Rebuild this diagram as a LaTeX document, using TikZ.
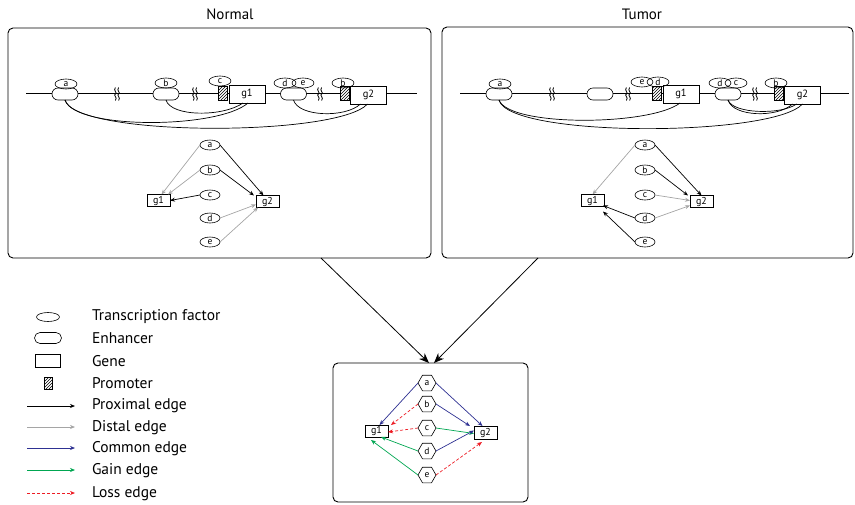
\documentclass[tikz,border=0pt]{standalone}
\usepackage{fontspec}
\setmainfont{PT Sans}
\usetikzlibrary{shapes.geometric,shapes.misc,patterns,arrows.meta,calc}
\definecolor{comblue}{RGB}{46,49,146}
\definecolor{gaingreen}{RGB}{0,166,81}
\definecolor{lossred}{RGB}{237,28,36}
\definecolor{distgray}{RGB}{165,165,165}
\begin{document}
\begin{tikzpicture}[x=1pt,y=-1pt,
  every node/.style={inner sep=0pt, outer sep=0pt},
  panel/.style={draw, rounded corners=5pt, line width=0.9pt},
  tf/.style={draw, ellipse, minimum width=22pt, minimum height=10pt, font=\fontsize{9.5}{9.5}\selectfont, line width=0.6pt},
  tfs/.style={draw, ellipse, minimum width=20pt, minimum height=10pt, font=\fontsize{9.5}{9.5}\selectfont, line width=0.6pt},
  enh/.style={draw, rounded rectangle, minimum width=26pt, minimum height=12pt, fill=white, line width=0.6pt},
  gene/.style={draw, rectangle, minimum width=36pt, minimum height=18pt, fill=white, font=\fontsize{10.5}{10.5}\selectfont, line width=0.7pt},
  gsm/.style={draw, rectangle, minimum width=23pt, minimum height=12pt, fill=white, font=\fontsize{10}{10}\selectfont, line width=0.7pt},
  prom/.style={draw, preaction={fill=white}, pattern=north east lines, minimum width=9pt, minimum height=14pt, line width=0.6pt},
  hex/.style={draw, regular polygon, regular polygon sides=6, minimum size=18pt, fill=white, font=\fontsize{9.5}{9.5}\selectfont, line width=0.6pt},
  dna/.style={line width=0.7pt},
  arc/.style={line width=0.7pt},
  tip/.style={-{Stealth[length=5pt,width=4pt]}, line width=0.7pt},
  prox/.style={tip, black},
  dist/.style={tip, distgray},
  common/.style={tip, comblue},
  gain/.style={tip, gaingreen},
  loss/.style={tip, lossred, dash pattern=on 3pt off 2pt},
  big/.style={-{Stealth[length=10pt,width=8pt]}, line width=0.8pt},
  legtext/.style={anchor=west, font=\fontsize{15.5}{15.5}\selectfont},
  title/.style={font=\fontsize{15}{15}\selectfont},
  brk/.pic={
    \draw[line width=0.8pt] (-1.6,-6.5) .. controls (-4.2,-3.2) and (1,-1.2) .. (-1.6,0) .. controls (-4.2,1.2) and (1,3.2) .. (-1.6,6.5);
    \draw[line width=0.8pt] (1.6,-6.5) .. controls (-1,-3.2) and (4.2,-1.2) .. (1.6,0) .. controls (-1,1.2) and (4.2,3.2) .. (1.6,6.5);
  }
]
\useasboundingbox (0,0) rectangle (855,504);

% titles
\node[title] (tN) at (230,14) {Normal};
\node[title] (tT) at (642,14) {Tumor};

% panels
\node[panel, minimum width=423pt, minimum height=230pt] (pN) at (219.5,143) {};
\node[panel, minimum width=411pt, minimum height=231pt] (pT) at (647.5,142.5) {};
\node[panel, minimum width=195pt, minimum height=139pt] (pB) at (430.5,432.5) {};

%%%%%%%% Normal DNA
\coordinate (nL) at (26,93);
\coordinate (nR) at (417,93);
\draw[dna] (nL) -- (nR);
\pic at (117,94) {brk};
\pic at (195,94) {brk};
\pic at (320,94) {brk};
\node[enh] (eNa) at (65,94) {};
\node[enh] (eNb) at (166,94) {};
\node[enh] (eNde) at (293.5,94) {};
\node[prom] (prN1) at (222.5,93.5) {};
\node[prom] (prN2) at (344.5,93.5) {};
\node[gene] (gN1) at (247,94) {g1};
\node[gene] (gN2) at (368.5,95) {g2};
\node[tf] (tNa) at (66,84) {a};
\node[tf] (tNb) at (166,83) {b};
\node[tf] (tNc) at (220,81) {c};
\node[tf] (tNd) at (285,83) {d};
\node[tf] (tNe) at (303,83) {e};
\node[tf] (tNb2) at (343,83) {b};
\draw[arc] (eNa.south) .. controls +(10,30) and +(-30,26) .. ([xshift=1pt]gN1.south);
\draw[arc] (eNa.south) .. controls +(10,37) and +(-30,33) .. ([xshift=-1pt]gN2.south);
\draw[arc] (eNb.south) .. controls +(5,17) and +(-20,14) .. ([xshift=-4pt]gN1.south);
\draw[arc] (eNde.south) .. controls +(5,17) and +(-15,14) .. ([xshift=-8pt]gN2.south);

%%%%%%%% Tumor DNA
\coordinate (tL) at (460,93);
\coordinate (tR) at (849,93);
\draw[dna] (tL) -- (tR);
\pic at (552,94) {brk};
\pic at (628,94) {brk};
\pic at (755,94) {brk};
\node[enh] (eTa) at (499,94) {};
\node[enh] (eTx) at (600,94) {};
\node[enh] (eTdc) at (728,94) {};
\node[prom] (prT1) at (657,93.5) {};
\node[prom] (prT2) at (778.5,93.5) {};
\node[gene] (gT1) at (681,94) {g1};
\node[gene] (gT2) at (802.5,95) {g2};
\node[tf] (tTa) at (500,84) {a};
\node[tf] (tTe) at (642,82) {e};
\node[tf] (tTd) at (658,82) {d};
\node[tf] (tTd2) at (720,83) {d};
\node[tf] (tTc) at (736,83) {c};
\node[tf] (tTb) at (776,83) {b};
\draw[arc] (eTa.south) .. controls +(10,27) and +(-30,23) .. ([xshift=-1pt]gT1.south);
\draw[arc] (eTa.south) .. controls +(10,38) and +(-30,33) .. (gT2.south);
\draw[arc] (eTdc.south) .. controls +(5,17) and +(-15,14) .. ([xshift=-10pt]gT2.south);
\draw[arc] (eTdc.south) .. controls +(5,14) and +(-15,11) .. ([xshift=-6pt]gT2.south);

%%%%%%%% Normal graph
\node[tfs] (mNa) at (210,145) {a};
\node[tfs] (mNb) at (210,170) {b};
\node[tfs] (mNc) at (210,195) {c};
\node[tfs] (mNd) at (210,218) {d};
\node[tfs] (mNe) at (210,242) {e};
\node[gsm] (mNg1) at (158.5,200.5) {g1};
\node[gsm] (mNg2) at (267.5,201.5) {g2};
\draw[dist] (mNa.west) -- ([xshift=3pt]mNg1.north);
\draw[prox] (mNa.east) -- ([xshift=-4pt]mNg2.north);
\draw[dist] (mNb.west) -- ([xshift=-2pt]mNg1.north east);
\draw[prox] (mNb.east) -- ([xshift=-2pt]mNg2.north west);
\draw[prox] (mNc.west) -- (mNg1.east);
\draw[dist] (mNd.east) -- ([yshift=-3pt]mNg2.west);
\draw[dist] (mNe.east) -- ([xshift=2pt]mNg2.south west);

%%%%%%%% Tumor graph
\node[tfs] (mTa) at (645,145) {a};
\node[tfs] (mTb) at (645,170) {b};
\node[tfs] (mTc) at (645,195) {c};
\node[tfs] (mTd) at (645,218) {d};
\node[tfs] (mTe) at (645,242) {e};
\node[gsm] (mTg1) at (592.5,200.5) {g1};
\node[gsm] (mTg2) at (701.5,201.5) {g2};
\draw[dist] (mTa.west) -- (mTg1.north);
\draw[prox] (mTa.east) -- (mTg2.north);
\draw[prox] (mTb.east) -- ([xshift=-2pt]mTg2.north west);
\draw[dist] (mTc.east) -- ([yshift=1pt]mTg2.west);
\draw[dist] (mTd.east) -- ([yshift=2pt]mTg2.south west);
\draw[prox] (mTd.west) -- ([xshift=-1pt,yshift=1pt]mTg1.south east);
\draw[prox] (mTe.west) -- ([xshift=-1pt,yshift=-5pt]mTg1.south east);

%%%%%%%% big arrows
\draw[big] ([xshift=101.5pt]pN.south) -- ([xshift=-1.5pt]pB.north);
\draw[big] ([xshift=-109.5pt]pT.south) -- ([xshift=3.5pt]pB.north);

%%%%%%%% Differential graph
\node[hex] (ha) at (427,383) {a};
\node[hex] (hb) at (427,404) {b};
\node[hex] (hc) at (427,428) {c};
\node[hex] (hd) at (427,451) {d};
\node[hex] (he) at (427,475) {e};
\node[gsm] (dg1) at (376.5,431) {g1};
\node[gsm, minimum height=13pt] (dg2) at (485.5,432.5) {g2};
\draw[common] (ha.west) -- ([xshift=3pt]dg1.north);
\draw[common] (ha.east) -- ([xshift=-3pt]dg2.north);
\draw[loss] (hb.west) -- ([xshift=3pt]dg1.north east);
\draw[common] (hb.east) -- ([xshift=-4pt]dg2.north west);
\draw[loss] (hc.west) -- ([yshift=-1pt]dg1.east);
\draw[gain] (hc.east) -- ([yshift=-1pt]dg2.west);
\draw[gain] (hd.west) -- ([xshift=-7pt]dg1.south east);
\draw[common] (hd.east) -- ([yshift=2pt]dg2.west);
\draw[gain] (he.west) -- ([xshift=6pt,yshift=-3pt]dg1.south west);
\draw[loss] (he.east) -- ([xshift=8pt,yshift=-3pt]dg2.south west);

%%%%%%%% Legend
\node[draw, ellipse, minimum width=23pt, minimum height=9pt, line width=0.6pt] (lgTF) at (48,317) {};
\node[draw, rounded rectangle, minimum width=27pt, minimum height=11pt, line width=0.6pt] (lgEn) at (48,338) {};
\node[draw, rectangle, minimum width=25pt, minimum height=13pt, line width=0.6pt] (lgGe) at (48,361) {};
\node[prom, minimum width=8pt, minimum height=12pt] (lgPr) at (48,383) {};
\coordinate (lgA1) at (27,406); \coordinate (lgB1) at (75,406);
\coordinate (lgA2) at (27,427); \coordinate (lgB2) at (75,427);
\coordinate (lgA3) at (27,448); \coordinate (lgB3) at (75,448);
\coordinate (lgA4) at (27,470); \coordinate (lgB4) at (75,470);
\coordinate (lgA5) at (27,493); \coordinate (lgB5) at (75,493);
\draw[prox] (lgA1) -- (lgB1);
\draw[dist] (lgA2) -- (lgB2);
\draw[common] (lgA3) -- (lgB3);
\draw[gain] (lgA4) -- (lgB4);
\draw[loss] (lgA5) -- (lgB5);
\node[legtext] (ltTF) at (92,317) {Transcription factor};
\node[legtext] (ltEn) at (92,338) {Enhancer};
\node[legtext] (ltGe) at (92,361) {Gene};
\node[legtext] (ltPr) at (92,383) {Promoter};
\node[legtext] (ltPx) at (92,406) {Proximal edge};
\node[legtext] (ltDi) at (92,428) {Distal edge};
\node[legtext] (ltCo) at (92,449) {Common edge};
\node[legtext] (ltGa) at (92,471) {Gain edge};
\node[legtext] (ltLo) at (92,494) {Loss edge};
\end{tikzpicture}
\end{document}
